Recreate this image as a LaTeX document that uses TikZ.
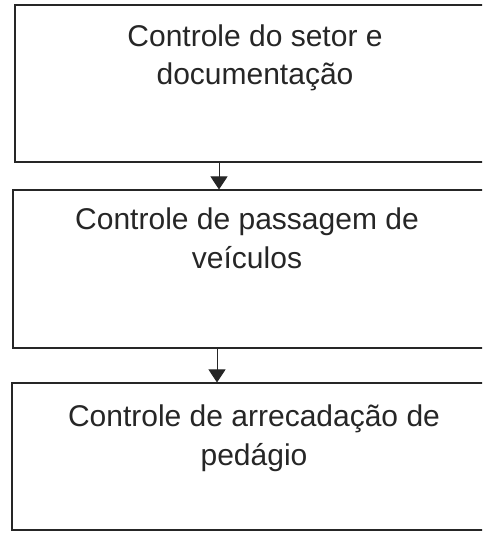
\documentclass[tikz,border=0pt]{standalone}
\usepackage{fontspec}
\setmainfont{Liberation Sans}
\usetikzlibrary{arrows.meta}
\begin{document}
\begin{tikzpicture}[x=1pt,y=-1pt,
  boxstyle/.style={draw=black!85,line width=1.1pt,rectangle,inner sep=0pt},
  labelstyle/.style={align=center,inner sep=0pt,anchor=base,
    font=\fontsize{30}{38.5}\selectfont,text=black!85},
  arrowstyle/.style={draw=black!85,line width=0.9pt,
    -{Triangle[width=17pt,length=13pt]}}]
\useasboundingbox (0,0) rectangle (482,545);
\clip (0,0) rectangle (482,545);
\node[boxstyle,minimum width=475pt,minimum height=157pt] (b1) at (252.5,83.5) {};
\node[boxstyle,minimum width=477pt,minimum height=158pt] (b2) at (251.5,269) {};
\node[boxstyle,minimum width=478pt,minimum height=147pt] (b3) at (251,456.5) {};
\node[labelstyle] (t1) at (255,85) {Controle do setor e\\documentação};
\node[labelstyle] (t2) at (247,268) {Controle de passagem de\\veículos};
\node[labelstyle] (t3) at (254,465) {Controle de arrecadação de\\pedágio};
\coordinate (a1) at (219,0);
\coordinate (a2) at (217,0);
\draw[arrowstyle] (b1.south -| a1) -- (b2.north -| a1);
\draw[arrowstyle] (b2.south -| a2) -- (b3.north -| a2);
\end{tikzpicture}
\end{document}
